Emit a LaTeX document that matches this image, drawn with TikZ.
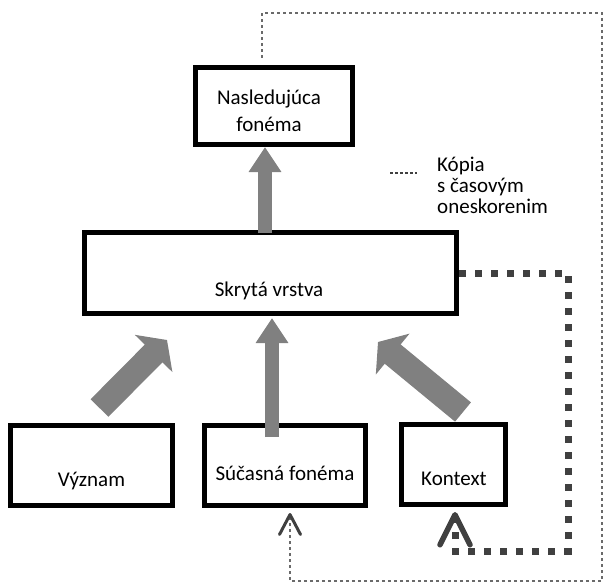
\documentclass[tikz,border=0pt]{standalone}
\usepackage{fontspec}
\setmainfont{Carlito}
\usetikzlibrary{arrows.meta}
\definecolor{blockgray}{HTML}{808080}
\definecolor{dotgray}{HTML}{404040}
\definecolor{linegray}{HTML}{6A6A6A}
\begin{document}
\begin{tikzpicture}[x=1pt,y=-1pt,
  box/.style={draw=black,line width=5pt,fill=white,inner sep=0pt},
  txt/.style={font=\fontsize{21}{25}\selectfont,inner sep=0pt},
  flow/.style={draw=blockgray,line width=14pt,-{Triangle[width=31pt,length=25pt]}},
  wideflow/.style={draw=blockgray,line width=25pt,-{Triangle[width=52pt,length=19pt]}},
  copylink/.style={draw=dotgray,line width=7pt,dash pattern=on 7pt off 9pt,-{Straight Barb[width=30pt,length=30pt,line width=5.5pt,round]}},
  thinlink/.style={draw=linegray,line width=2pt,dash pattern=on 3pt off 3pt,-{Straight Barb[width=21pt,length=20pt,line width=3pt,round,color=dotgray]}}]
 \useasboundingbox (0,0) rectangle (604,583);
 \node (nextph) at (274,106) [box,minimum width=157pt,minimum height=77pt] {};
 \node (hidden) at (270.5,273) [box,minimum width=372pt,minimum height=81pt] {};
 \node (meaning) at (91.5,465.5) [box,minimum width=162pt,minimum height=80pt] {};
 \node (current) at (285,465.5) [box,minimum width=161pt,minimum height=80pt] {};
 \node (context) at (453.5,464.5) [box,minimum width=104pt,minimum height=80pt] {};
 \node (nextph txt) at (269,111) [txt,align=center] {Nasledujúca\\[1.7pt]fonéma};
 \node (hidden txt) at (269,296) [txt,anchor=base] {Skrytá vrstva};
 \node (meaning txt) at (91.5,486.7) [txt,anchor=base] {Význam};
 \node (current txt) at (285,480) [txt,anchor=base] {Súčasná fonéma};
 \node (context txt) at (454,485) [txt,anchor=base] {Kontext};
 \node (legend txt) at (437,185) [txt,anchor=west,align=left,font=\fontsize{21}{21}\selectfont] {Kópia\\s časovým\\oneskorenim};
 \coordinate (legend a) at (390,173);
 \coordinate (legend b) at (417,173);
 \coordinate (copy corner) at (568,551);
 \coordinate (delay corner) at (602,13);
 \coordinate (delay bottom) at (290,581);
 \draw[draw=dotgray,line width=2pt,dash pattern=on 3pt off 2pt] (legend a) -- (legend b);
 \draw[flow] ([xshift=-5.5pt,yshift=-3pt]hidden.north) -- ([xshift=-9pt]nextph.south);
 \draw[flow] ([xshift=-13pt,yshift=-14pt]current.north) -- ([xshift=1.5pt,yshift=-2pt]hidden.south);
 \draw[wideflow] ([xshift=8pt,yshift=15pt]meaning.north) -- ([xshift=-103.5pt,yshift=-24pt]hidden.south);
 \draw[wideflow] ([xshift=9.5pt,yshift=10pt]context.north) -- ([xshift=107.5pt,yshift=-26pt]hidden.south);
 \draw[copylink] (hidden.east) -| (copy corner) -| ([xshift=1.5pt,yshift=-5pt]context.south);
 \draw[thinlink] ([xshift=-12pt,yshift=7pt]nextph.north) |- (delay corner) |- (delay bottom) -- ([xshift=5pt,yshift=-5pt]current.south);
\end{tikzpicture}
\end{document}
